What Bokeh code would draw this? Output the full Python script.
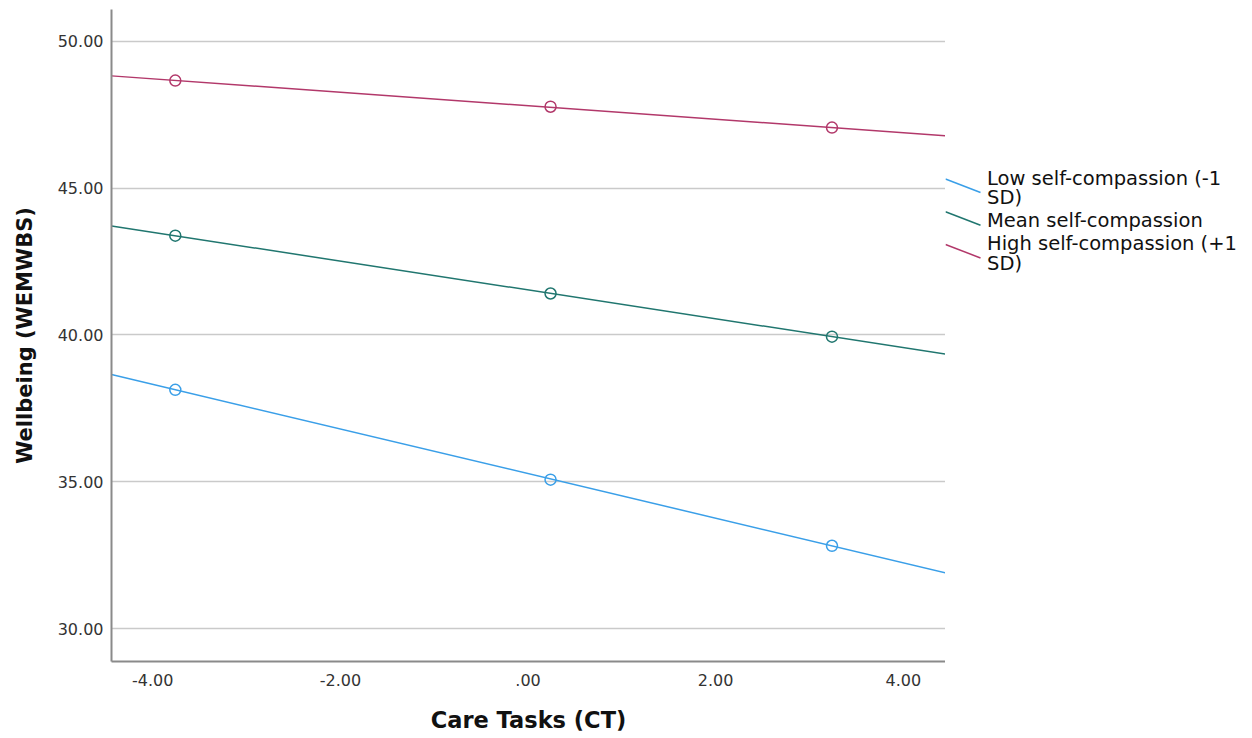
from bokeh.plotting import figure
from bokeh.models import Range1d, FixedTicker
from bokeh.layouts import row
from bokeh.embed import file_html
from bokeh.resources import INLINE
from bokeh.core.properties import value

# ---- data ----
care_tasks = [-3.76, 0.24, 3.24]
low_sc = [38.13, 35.07, 32.82]
mean_sc = [43.38, 41.41, 39.94]
high_sc = [48.66, 47.77, 47.06]

fit_x = [-4.44, 4.45]
low_fit = [38.65, 31.90]
mean_fit = [43.71, 39.35]
high_fit = [48.82, 46.78]

series_labels = ["Low self-compassion (-1\nSD)", "Mean self-compassion", "High self-compassion (+1\nSD)"]
series_colors = ["#3a9fe8", "#20766f", "#b2386a"]

x_ticks = [-4, -2, 0, 2, 4]
x_tick_labels = ["-4.00", "-2.00", ".00", "2.00", "4.00"]
y_ticks = [30, 35, 40, 45, 50]
y_tick_labels = ["30.00", "35.00", "40.00", "45.00", "50.00"]

x_title = "Care Tasks (CT)"
y_title = "Wellbeing (WEMWBS)"

H = 736
TOP, BOTTOM = 9, 661

# ---- main plot ----
p = figure(width=945, height=H, x_range=Range1d(-4.44, 4.45), y_range=Range1d(28.88, 51.08),
           output_backend="svg", toolbar_location=None,
           min_border_left=111, min_border_right=0, min_border_top=TOP, min_border_bottom=H - BOTTOM)
p.outline_line_color = None
p.background_fill_color = "white"

p.xaxis.ticker = FixedTicker(ticks=x_ticks)
p.yaxis.ticker = FixedTicker(ticks=y_ticks)
p.xaxis.major_label_overrides = dict(zip(x_ticks, x_tick_labels))
p.yaxis.major_label_overrides = dict(zip(y_ticks, y_tick_labels))

for ax in (p.xaxis[0], p.yaxis[0]):
    ax.axis_line_color = "#8a8a8a"
    ax.axis_line_width = 2
    ax.major_tick_line_color = None
    ax.minor_tick_line_color = None
    ax.major_tick_in = 0
    ax.major_tick_out = 0
    ax.major_label_text_font = "DejaVu Sans"
    ax.major_label_text_font_size = "16px"
    ax.major_label_text_color = "#333333"
    ax.axis_label_text_font = "DejaVu Sans"
    ax.axis_label_text_font_style = "bold"
    ax.axis_label_text_color = "#111111"

p.xaxis.axis_label = x_title
p.yaxis.axis_label = y_title
p.xaxis.axis_label_text_font_size = "22.5px"
p.yaxis.axis_label_text_font_size = "21px"
p.yaxis.major_label_standoff = 8
p.xaxis.major_label_standoff = 12
p.yaxis.axis_label_standoff = 18
p.xaxis.axis_label_standoff = 18

p.xgrid.grid_line_color = None
p.ygrid.grid_line_color = "#cacaca"
p.ygrid.grid_line_width = 1.6

for ys, fit, col in zip([low_sc, mean_sc, high_sc], [low_fit, mean_fit, high_fit], series_colors):
    p.line(fit_x, fit, line_color=col, line_width=1.5)
    p.scatter(care_tasks, ys, marker="circle", size=11, fill_color=None,
              line_color=col, line_width=1.5)

# ---- legend panel (SPSS style, slanted keys); coordinates are page pixels ----
LW = 300
lf = figure(width=LW, height=H, x_range=Range1d(945, 945 + LW), y_range=Range1d(BOTTOM, TOP),
            x_axis_type=None, y_axis_type=None,
            output_backend="svg", toolbar_location=None,
            min_border_left=0, min_border_right=0, min_border_top=TOP, min_border_bottom=H - BOTTOM)
lf.outline_line_color = None
lf.grid.visible = False

baseline = 177.5
line_step = 19.5
item_gap = 23
for lab, col in zip(series_labels, series_colors):
    lines = lab.split("\n")
    bases = [baseline + i * line_step for i in range(len(lines))]
    center = (bases[0] + bases[-1]) / 2 - 2
    lf.segment(x0=[945], y0=[center - 6.7], x1=[980], y1=[center + 6.7], line_color=col, line_width=1.5)
    lf.text(x=[986.5] * len(lines), y=bases, text=lines, text_font=value("DejaVu Sans"),
            text_font_size="19.5px", text_color="#111111", text_baseline="alphabetic", text_align="left")
    baseline = bases[-1] + item_gap

layout = row(p, lf)
open("out.html", "w").write(file_html(layout, INLINE))
